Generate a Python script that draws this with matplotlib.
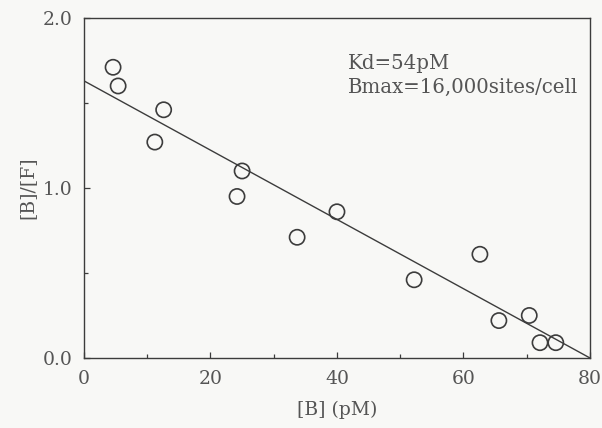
import matplotlib
matplotlib.use("Agg")
import matplotlib.pyplot as plt
from matplotlib.ticker import MultipleLocator

# Scatchard data: bound ligand [B] (pM) vs. bound/free ratio
bound_pM = [4.6, 5.4, 12.6, 11.2, 25.0, 24.2, 33.7, 40.0, 52.2, 62.6, 65.6, 70.4, 72.1, 74.6]
bound_free = [1.71, 1.60, 1.46, 1.27, 1.10, 0.95, 0.71, 0.86, 0.46, 0.61, 0.22, 0.25, 0.09, 0.09]

# Linear regression line (intercepts)
fit_x = [0, 80]
fit_y = [1.63, 0.0]

x_ticks = [0, 20, 40, 60, 80]
y_ticks = [0.0, 1.0, 2.0]
y_ticklabels = ["0.0", "1.0", "2.0"]

ink = "#3c3c3c"
text_c = "#555555"
bg = "#f8f8f6"

plt.rcParams["font.family"] = ["DejaVu Serif"]

fig = plt.figure(figsize=(6.02, 4.28), dpi=100, facecolor=bg)
ax = fig.add_axes([0.1395, 0.1636, 0.8405, 0.7944], facecolor=bg)

ax.plot(fit_x, fit_y, color=ink, lw=1.0, zorder=2)
ax.scatter(bound_pM, bound_free, s=120, facecolors="none", edgecolors=ink,
           linewidths=1.2, zorder=3, clip_on=False)

ax.set_xlim(0, 80)
ax.set_ylim(0, 2.0)
ax.set_xticks(x_ticks)
ax.set_yticks(y_ticks)
ax.set_yticklabels(y_ticklabels)
ax.xaxis.set_minor_locator(MultipleLocator(10))
ax.yaxis.set_minor_locator(MultipleLocator(0.5))
ax.tick_params(which="both", direction="in", color=ink, labelcolor=text_c,
               labelsize=13.5, top=False, right=False)
ax.tick_params(which="major", length=4, width=0.9)
ax.tick_params(which="minor", length=3, width=0.9)
ax.tick_params(axis="x", pad=9)
ax.tick_params(axis="y", pad=8)

for sp in ax.spines.values():
    sp.set_color(ink)
    sp.set_linewidth(1.0)

ax.set_xlabel("[B] (pM)", fontsize=13.5, color=text_c, labelpad=9)
ax.set_ylabel("[B]/[F]", fontsize=13.5, color=text_c, labelpad=5)

ax.text(0.522, 0.895, "Kd=54pM\nBmax=16,000sites/cell", transform=ax.transAxes,
        fontsize=14.2, color=text_c, va="top", ha="left", linespacing=1.35)

fig.savefig("out.png", dpi=100, facecolor=bg)
